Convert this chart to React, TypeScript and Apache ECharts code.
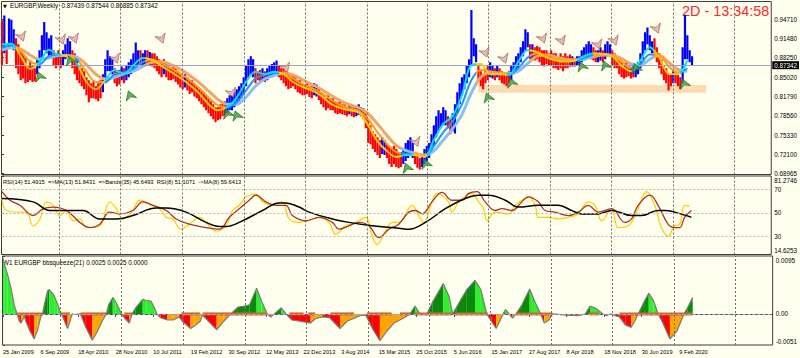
import React, { useEffect, useRef } from "react";
import * as echarts from "echarts";

// ---------------- DATA ----------------
const dateLabels = ["25 Jan 2009","6 Sep 2009","18 Apr 2010","28 Nov 2010","10 Jul 2011","19 Feb 2012","30 Sep 2012","12 May 2013","22 Dec 2013","3 Aug 2014","15 Mar 2015","25 Oct 2015","5 Jun 2016","15 Jan 2017","27 Aug 2017","8 Apr 2018","18 Nov 2018","30 Jun 2019","9 Feb 2020"];
const dateWeeks = [0,32,64,96,128,160,192,224,256,288,320,352,384,416,448,480,512,544,576];
const gridWeeks = [48.4,101.1,153.8,206.5,258.3,311,362.8,414.6,467.3,519.1,571.8,623.6];

const priceTicks = [0.9471,0.9148,0.8825,0.8502,0.8179,0.7856,0.7533,0.721,0.68965];
const priceTickLabels = ["0.94710","0.91480","0.88250","0.85020","0.81790","0.78560","0.75330","0.72100","0.68965"];
const rsiTicks = [81.2746,70,50,30,14.6253];
const rsiTickLabels = ["81.2746","70","50","30","14.6253"];
const sqTicks = [0.0095,0,-0.0051];
const sqTickLabels = ["0.0095","0.00","-0.0051"];

const titleText = "EURGBP,Weekly  0.87439 0.87544 0.86885 0.87342";
const rsiText = "RSI(14) 51.4915  =>MA(13) 51.8431  =>Bands(35) 45.6493  RSI(8) 51.1071  ->MA(8) 59.6413";
const sqText = "W1 EURGBP bbsqueeze(21) 0.0025 0.0025 0.0000";
const timerText = "2D - 13:34:58";
const lastPrice = 0.87342;
const lastPriceLabel = "0.87342";

// two-week bars (x = 2 * index weeks), prices x 10000
const barHigh = [
9450,9530,9000,9480,9460,9300,9150,9050,8950,8900,
8850,8700,8780,8700,8650,8800,8950,9200,9420,9250,
9150,9200,8950,8900,8950,8850,8950,9050,9150,9100,
8950,8900,8800,8700,8650,8600,8500,8450,8400,8450,
8350,8400,8450,8550,8800,8950,8850,8800,8650,8600,
8620,8680,8650,8700,8750,8800,8900,9080,8950,8950,
8900,8950,8950,8920,8900,8900,8850,8800,8750,8800,
8750,8700,8650,8700,8650,8600,8550,8500,8550,8500,
8450,8450,8400,8350,8300,8280,8250,8200,8150,8100,
8050,8000,8000,8050,8100,8100,8150,8200,8200,8250,
8300,8350,8400,8500,8700,8800,8850,8800,8650,8600,
8620,8650,8600,8650,8700,8720,8750,8780,8700,8650,
8650,8600,8550,8500,8550,8500,8450,8450,8400,8380,
8400,8350,8350,8400,8380,8300,8250,8200,8150,8200,
8150,8150,8100,8080,8100,8050,8050,8000,8050,8000,
8000,8000,8050,8000,7980,7900,7800,7700,7600,7550,
7500,7450,7500,7450,7400,7350,7300,7350,7300,7250,
7250,7300,7400,7450,7500,7400,7250,7200,7150,7200,
7300,7350,7400,7550,7700,7850,7950,7900,8000,7950,
7850,7800,7900,8050,8250,8400,8500,8550,8700,8800,
9620,9150,9050,8700,8600,8550,8650,8700,8750,8700,
8650,8700,8650,8600,8550,8550,8600,8700,8750,8850,
8900,9000,9100,9300,9250,9050,9050,9000,9020,9000,
8950,8950,8950,8900,8950,8900,8900,8850,8900,8850,
8900,8850,8880,8850,8820,8850,8850,8950,9000,9050,
9100,9050,9000,8950,8950,9000,8950,9050,9100,9050,
8950,8900,8850,8800,8750,8700,8750,8700,8650,8700,
8650,8750,8900,9100,9250,9330,9200,9100,9150,9000,
8900,8800,8700,8650,8550,8550,8600,8580,8550,8500,
9000,9540,9200,8950,8850
];
const barLow = [
8700,8900,8720,9000,9050,8950,8650,8550,8450,8480,
8400,8420,8450,8420,8430,8550,8650,8800,8950,8900,
8850,8850,8700,8650,8700,8650,8700,8800,8850,8800,
8650,8550,8450,8400,8350,8300,8200,8080,8150,8150,
8130,8100,8150,8250,8400,8600,8600,8550,8400,8350,
8380,8450,8400,8450,8500,8550,8600,8700,8700,8700,
8700,8720,8700,8700,8680,8650,8600,8550,8500,8550,
8500,8450,8450,8470,8420,8380,8330,8300,8330,8280,
8220,8250,8180,8150,8100,8050,8000,7950,7900,7850,
7800,7750,7780,7800,7850,7870,7900,7950,7950,8000,
8050,8100,8150,8200,8350,8500,8550,8500,8400,8450,
8420,8450,8420,8450,8500,8500,8550,8550,8500,8450,
8400,8350,8300,8320,8350,8300,8250,8230,8200,8200,
8220,8170,8150,8200,8180,8120,8050,8000,7950,7980,
7950,7950,7900,7880,7900,7880,7870,7850,7880,7850,
7830,7850,7870,7850,7800,7650,7400,7380,7300,7250,
7200,7150,7220,7200,7150,7050,7000,7050,7000,6980,
7000,7050,7100,7150,7200,7150,7050,6990,6960,7000,
7050,7100,7150,7250,7350,7500,7600,7650,7700,7700,
7650,7550,7600,7560,7900,8050,8200,8300,8400,8500,
8700,8850,8750,8450,8350,8300,8400,8450,8500,8480,
8450,8500,8450,8400,8380,8350,8400,8450,8550,8600,
8650,8750,8850,8950,9000,8800,8800,8780,8800,8750,
8700,8680,8720,8700,8700,8650,8650,8620,8650,8600,
8650,8650,8680,8680,8680,8700,8700,8750,8780,8800,
8850,8800,8780,8750,8750,8780,8750,8800,8850,8850,
8700,8650,8650,8550,8500,8480,8500,8520,8480,8500,
8500,8550,8650,8800,8950,9050,8950,8900,8900,8750,
8650,8550,8450,8400,8280,8350,8400,8400,8350,8300,
8400,8800,8800,8750,8700
];
const barDir = [
"rbrbbbrrrr","rrrrrbbbbb","bbrrrrbbbb","rrrrrrrrrr","rrrbbbbbrr",
"rbrbbbbbbr","bbrbrrrrrb","rrrrrrrrbr","rrrrrrrrrr","rrrrrrbbbb",
"bbbbbbbbrr","rbrbbbbbrr","rrrrrrrrrr","rrrbbrrrrr","rrrrrrrrbr",
"rbbbrrrrrr","rrbbrrrrrr","rbbbbbrrrb","bbbbbbbbbb","rrbbbbbbbb",
"bbbrrrrrbb","rbrrrrrbbb","bbbbbrbrrr","rrrrrrrrrr","rrrbrbbbbb",
"bbrrbbrbbb","rrrrrrrrrr","bbbbbbbbrr","rrrrrrbrrr","bbbbb"
].join("");

// moving averages, one value every 8 weeks, x 10000
const maFast = [9050,9060,8850,8640,8750,8960,8870,8850,8720,8420,8300,8450,8620,8560,8700,8820,8790,8690,8590,8490,8370,8230,8050,7950,8000,8160,8420,8590,8550,8590,8550,8420,8340,8280,8190,8060,7990,7950,7910,7700,7430,7270,7170,7200,7200,7170,7450,7720,7850,8200,8700,8720,8550,8550,8540,8760,8950,8920,8830,8780,8760,8780,8850,8900,8890,8850,8690,8600,8780,9000,8830,8560,8550,8780];
const maMid = [9000,9030,8930,8760,8720,8850,8880,8850,8790,8590,8420,8420,8550,8580,8640,8750,8790,8740,8650,8560,8450,8320,8160,8030,8000,8080,8280,8480,8540,8570,8570,8480,8390,8320,8240,8130,8040,7980,7940,7800,7580,7390,7250,7220,7200,7180,7350,7580,7760,8050,8450,8620,8600,8560,8550,8650,8830,8900,8860,8810,8780,8780,8820,8870,8880,8860,8760,8660,8720,8880,8870,8680,8580,8650];
const maSlow = [8950,8990,8970,8870,8800,8820,8860,8860,8830,8710,8550,8470,8500,8560,8600,8680,8750,8760,8710,8630,8530,8410,8270,8130,8050,8050,8170,8350,8470,8530,8570,8540,8460,8380,8300,8200,8110,8040,7990,7890,7720,7530,7360,7280,7230,7200,7270,7450,7640,7880,8240,8500,8580,8570,8560,8600,8730,8850,8870,8840,8800,8790,8800,8840,8870,8870,8810,8720,8700,8800,8860,8750,8630,8600];
const trendSegments: [number, string][] = [[0,"u"],[12,"d"],[30,"u"],[50,"d"],[62,"u"],[66,"d"],[88,"u"],[122,"d"],[190,"u"],[236,"d"],[340,"u"],[350,"d"],[362,"u"],[404,"d"],[430,"u"],[450,"d"],[490,"u"],[504,"d"],[536,"u"],[556,"d"],[578,"u"]];

// signal arrows [week, price]
const sellArrows = [[17,0.9172],[51,0.9121],[62,0.9138],[97,0.8803],[136,0.9138],[196,0.8234],[242,0.8653],[353,0.7414],[412,0.8904],[428,0.8803],[461,0.9138],[477,0.9105],[508,0.9038],[522,0.9105],[558,0.9305]];
const buyArrows = [[32,0.8519],[58,0.8786],[109,0.8201],[192,0.7899],[200,0.7866],[345,0.6995],[361,0.7062],[414,0.8167],[434,0.8418],[494,0.8686],[514,0.8703],[540,0.8653],[581,0.8401]];

// support zone
const zoneFrom = 406, zoneTo = 600, zoneLow = 0.8239, zoneHigh = 0.8368;

// RSI panel [week, value]
const rsiSlow = [[0,62.2],[26.6,59.3],[40.8,52.0],[55,52.0],[69,52.0],[83.3,44.8],[97.4,44.8],[111.6,47.7],[131.4,54.1],[140,54.1],[156.9,50.6],[173.9,41.9],[185.2,38.4],[190.9,38.4],[202.2,41.9],[222,52.0],[236.2,58.4],[241.9,58.4],[253.2,54.9],[261.7,50.6],[281.5,44.8],[295.7,41.9],[315.5,39.0],[338.1,37.0],[346.6,36.1],[360.8,41.9],[377.8,53.5],[394.8,62.2],[406.1,65.0],[414.6,65.0],[428.8,60.7],[440.1,54.9],[457.1,56.4],[474.1,56.4],[485.4,52.0],[493.9,49.1],[508.1,49.1],[519.5,52.0],[536.5,47.7],[545,47.7],[559.1,52.0],[564.7,52.0],[573.2,50.6],[587.4,46.2]];
const rsiFast = [[0,62.2],[4,52.0],[15.3,50.6],[21,50.6],[26.6,39.0],[32.3,44.8],[38,59.3],[43.6,56.4],[49.3,47.7],[55,52.0],[60.6,43.3],[66.3,44.8],[72,37.5],[83.3,39.0],[91.8,59.3],[97.4,53.5],[103,44.8],[111.6,52.0],[117.2,60.7],[125.7,57.8],[134.2,53.5],[140,46.2],[145.5,44.8],[152.7,36.1],[159.7,40.4],[168.2,46.2],[173.9,41.9],[182.4,34.6],[190.9,39.0],[196.5,52.0],[202.2,56.4],[207.9,63.6],[216.4,65.7],[222,59.3],[230.5,56.4],[239,59.3],[244.7,44.8],[253.2,41.9],[261.7,43.3],[270.2,46.2],[278.7,41.9],[284.4,31.7],[292.9,39.0],[298.5,40.4],[304.2,43.3],[309.8,46.2],[315.5,30.3],[319.7,23.0],[326.8,34.6],[332.5,41.9],[338.1,41.9],[349.5,56.4],[355.1,47.7],[359.4,41.9],[366.4,59.3],[370.7,66.5],[375,65.0],[380.6,59.3],[383.4,50.6],[389.1,59.3],[394.8,63.6],[400.4,66.5],[406.1,59.3],[410.4,53.5],[413.2,43.3],[420.3,50.6],[431.6,49.1],[437.3,56.4],[442.9,60.7],[448.6,63.6],[454.3,56.4],[457.1,46.2],[465.6,46.2],[474.1,44.8],[482.6,46.2],[491.1,49.1],[499.6,59.3],[505.2,56.4],[511,43.3],[519.5,53.5],[525.1,37.5],[533.6,39.0],[542.1,53.5],[549.2,68.0],[556.2,56.4],[561.9,37.5],[567.5,30.3],[573.2,39.0],[577.5,40.4],[581.7,56.4],[586,55.8]];
const rsiMid = [[0,68.0],[6.8,60.7],[15.3,56.4],[26.6,47.7],[35.1,53.5],[43.6,54.9],[55,52.0],[66.3,41.9],[74.8,37.5],[83.3,40.4],[91.8,50.6],[100.3,49.1],[111.6,52.0],[120,59.3],[128.5,56.4],[140,52.0],[148.4,44.8],[159.7,40.4],[173.9,37.5],[185.2,36.1],[193.7,46.2],[202.2,53.5],[210.7,60.7],[216.4,65.0],[224.9,59.3],[233.4,56.4],[241.9,56.4],[247.5,47.7],[258.9,43.3],[270.2,46.2],[281.5,41.9],[287.2,36.1],[295.7,39.0],[304.2,41.9],[312.7,39.0],[321.2,28.9],[329.7,36.1],[338.1,40.4],[346.6,50.6],[352.3,52.0],[358,49.1],[366.4,59.3],[375,67.4],[383.4,60.7],[392,60.7],[397.6,66.5],[404.7,68.0],[411.8,59.3],[420.3,52.0],[426,53.5],[434.5,52.0],[442.9,59.3],[448.6,63.6],[457.1,59.3],[462.8,52.0],[471.3,50.6],[482.6,47.7],[491.1,50.6],[499.6,56.4],[508.1,50.6],[519.5,53.5],[530.8,41.9],[536.5,44.8],[542.1,56.4],[552.1,65.0],[559.1,56.4],[567.5,40.4],[573.2,37.5],[577.5,37.5],[581.7,46.2],[587.4,52.0]];

// squeeze histogram [week, value x 10000]
const squeeze = [[0,92],[1,83],[4,64],[7,41],[9.6,14],[12,0],[13.9,-12],[15.3,-15],[16.7,-10],[18.1,-4],[19.5,-12],[22.4,-26],[26.6,-41],[29.5,-26],[32.3,-4],[33.7,0],[35,13],[38,38],[39.5,40],[43.6,30],[46.5,16],[49,2],[50,0],[52,-10],[55,-24],[57,-12],[59,0],[61,-1],[66,0],[70,-20],[76,-43],[80,-30],[85,-10],[88,0],[90,15],[93.5,27],[96,20],[101,0],[104,-8],[107.6,-15],[110,0],[113,10],[119,24],[122,22],[126,21],[129,10],[131,0],[134,-6],[140,-10],[145,-10],[150,-5],[152.7,-12],[159.7,-24],[163,-20],[168,-12],[170,-2],[172,-6],[182,-26],[188,-12],[194,0],[200,11],[206,13],[210,15],[216,42],[220,22],[225,0],[228,-5],[231,0],[237,10],[241,0],[246,-10],[253,-12],[262,-15],[266,-8],[272,-5],[278,-6],[287,-24],[293,-12],[299,-7],[304,-3],[309,-2],[315,-25],[321,-44],[327,-28],[333,-15],[338,-10],[342,-6],[346.6,0],[351,13],[355,0],[361,0],[366,20],[375,50],[380,28],[383,0],[386,10],[395,40],[402,55],[407,40],[412,0],[416,-12],[420,-24],[426,0],[428,7],[431,0],[434,-7],[437,0],[442,15],[448.6,41],[453,20],[458,0],[461,-15],[465,-10],[468,0],[480,-2],[490,-3],[496,0],[500,13],[505,9],[511,0],[514,-3],[517,0],[525,-5],[530,-18],[535,-22],[538,-12],[541,0],[546,20],[550,34],[554,22],[558,0],[562,-15],[568,-41],[574,-28],[580,0],[583,10],[587.4,27]];
const squeezeOn = [[12,34],[49,57],[66,88],[103,110],[152,168],[170,194],[194,225],[244,256],[260,266],[279,299],[310,331],[338,347],[350,382],[385,413],[437,468],[499,508],[525,587]];

// ---------------- STYLE ----------------
const BG = "#FFFFF0";
const FONT = "'Liberation Sans',Arial,sans-serif";
const XMIN = -0.4, XMAX = 655.5;
const UP = { fast: "#00E4F0", mid: "#1E96FF", slow: "#86BFF0" };
const DN = { fast: "#FFCC00", mid: "#FF9C1A", slow: "#F2A566" };

function pieces(up: string, dn: string) {
  return trendSegments.map((s, j) => ({
    gte: s[0],
    lt: j + 1 < trendSegments.length ? trendSegments[j + 1][0] : 100000,
    color: s[1] === "u" ? up : dn,
  }));
}

function labelFmt(ticks: number[], labels: string[], edge: boolean) {
  return (v: number) => {
    const i = ticks.findIndex((t) => Math.abs(t - v) < 1e-7);
    if (i < 0) return "";
    if (edge && i === 0) return "{t|" + labels[i] + "}";
    if (edge && i === labels.length - 1) return "{b|" + labels[i] + "}";
    return labels[i];
  };
}

export default function App() {
  const ref = useRef<HTMLDivElement>(null);
  useEffect(() => {
    if (!ref.current) return;
    const chart = echarts.init(ref.current, undefined, { renderer: "svg" });

    const vlines = gridWeeks.map((w) => ({ xAxis: w }));
    const dashed = { type: [2, 2] as any, color: "#6E6E6E", width: 1 };
    const LS = 6.3;
    const axisLbl = { fontSize: LS, fontFamily: FONT, color: "#000", margin: 3,
      rich: { t: { padding: [8, 0, 0, 0], fontSize: LS, fontFamily: FONT }, b: { padding: [0, 0, 8, 0], fontSize: LS, fontFamily: FONT } } };

    const grids = [
      { left: 1.5, right: 26.5, top: 1.5, height: 173 },
      { left: 1.5, right: 26.5, top: 176, height: 78.5 },
      { left: 1.5, right: 26.5, top: 256, height: 89 },
    ].map((g) => ({ ...g, show: true, backgroundColor: "transparent", borderColor: "#3C3C3C", borderWidth: 1 }));

    const xBase = (gi: number) => ({
      type: "value", gridIndex: gi, min: XMIN, max: XMAX,
      splitLine: { show: false }, axisLine: { show: false }, axisTick: { show: false }, axisLabel: { show: false },
    });

    const option: any = {
      animation: false,
      backgroundColor: BG,
      grid: grids,
      xAxis: [
        xBase(0), xBase(1),
        {
          ...xBase(2),
          axisLine: { show: true, lineStyle: { color: "#3C3C3C" } },
          axisTick: { show: true, customValues: dateWeeks, length: 3, lineStyle: { color: "#3C3C3C" } },
          axisLabel: {
            show: true, customValues: dateWeeks, align: "left", fontSize: 5.6, fontFamily: FONT, color: "#000", margin: 4,
            formatter: (v: number) => { const i = dateWeeks.findIndex((d) => Math.abs(d - v) < 1e-6); return i >= 0 ? dateLabels[i] : ""; },
          },
        },
      ],
      yAxis: [
        { type: "value", gridIndex: 0, position: "right", min: 0.68765, max: 0.9763, splitLine: { show: false }, axisLine: { show: false },
          axisTick: { show: true, customValues: priceTicks, length: 2, lineStyle: { color: "#333" } },
          axisLabel: { ...axisLbl, customValues: priceTicks, formatter: labelFmt(priceTicks, priceTickLabels, false) } },
        { type: "value", gridIndex: 1, position: "right", min: 14.6253, max: 81.2746, splitLine: { show: false }, axisLine: { show: false },
          axisTick: { show: true, customValues: rsiTicks, length: 2, lineStyle: { color: "#333" } },
          axisLabel: { ...axisLbl, customValues: rsiTicks, formatter: labelFmt(rsiTicks, rsiTickLabels, true) } },
        { type: "value", gridIndex: 2, position: "right", min: -0.0051, max: 0.0095, splitLine: { show: false }, axisLine: { show: false },
          axisTick: { show: true, customValues: sqTicks, length: 2, lineStyle: { color: "#333" } },
          axisLabel: { ...axisLbl, customValues: sqTicks, formatter: labelFmt(sqTicks, sqTickLabels, true) } },
      ],
      visualMap: [
        { type: "piecewise", show: false, dimension: 0, seriesIndex: 2, pieces: pieces(UP.slow, DN.slow), outOfRange: { color: DN.slow } },
        { type: "piecewise", show: false, dimension: 0, seriesIndex: 3, pieces: pieces(UP.mid, DN.mid), outOfRange: { color: DN.mid } },
        { type: "piecewise", show: false, dimension: 0, seriesIndex: 4, pieces: pieces(UP.fast, DN.fast), outOfRange: { color: DN.fast } },
      ],
      series: [
        // 0 levels: grid lines, zone, last price
        {
          type: "line", xAxisIndex: 0, yAxisIndex: 0, z: 1, silent: true, showSymbol: false,
          data: [[XMIN, lastPrice], [XMAX, lastPrice]], lineStyle: { opacity: 0 },
          markArea: { silent: true, itemStyle: { color: "#FCDAB2" }, data: [[{ xAxis: zoneFrom, yAxis: zoneLow }, { xAxis: zoneTo, yAxis: zoneHigh }]] },
          markLine: {
            silent: true, symbol: ["none", "none"], label: { show: false }, lineStyle: dashed,
            data: [
              ...vlines,
              { yAxis: lastPrice, lineStyle: { type: "solid", color: "#9AA3BE", width: 1 },
                label: { show: true, position: "end", formatter: lastPriceLabel, color: "#FFF", backgroundColor: "#000", padding: [1, 2, 1, 2], fontSize: LS, fontFamily: FONT, distance: 1 } },
            ],
          },
        },
        // 1 price bars
        {
          type: "custom", xAxisIndex: 0, yAxisIndex: 0, z: 2, silent: true, clip: true,
          data: barHigh.map((h, i) => [i * 2, h / 10000, barLow[i] / 10000, barDir[i] === "b" ? 1 : 0]),
          encode: { x: 0, y: [1, 2] },
          renderItem: (params: any, api: any) => {
            const t = api.coord([api.value(0), api.value(1)]);
            const b = api.coord([api.value(0), api.value(2)]);
            return { type: "rect", shape: { x: t[0] - 1.1, y: t[1], width: 2.2, height: Math.max(1, b[1] - t[1]) },
              style: { fill: api.value(3) ? "#0000FF" : "#FF0000" } };
          },
        },
        // 2-4 moving averages
        { type: "line", xAxisIndex: 0, yAxisIndex: 0, z: 3, smooth: 0.35, showSymbol: false, silent: true,
          data: maSlow.map((v, k) => [k * 8, v / 10000]), lineStyle: { width: 3 } },
        { type: "line", xAxisIndex: 0, yAxisIndex: 0, z: 4, smooth: 0.35, showSymbol: false, silent: true,
          data: maMid.map((v, k) => [k * 8, v / 10000]), lineStyle: { width: 2 } },
        { type: "line", xAxisIndex: 0, yAxisIndex: 0, z: 5, smooth: 0.35, showSymbol: false, silent: true,
          data: maFast.map((v, k) => [k * 8, v / 10000]), lineStyle: { width: 2 } },
        // 5-6 arrows
        { type: "scatter", xAxisIndex: 0, yAxisIndex: 0, z: 6, silent: true, data: sellArrows,
          symbol: "path://M0,0 L6,3 L12,0 L6,10 Z", symbolSize: [11, 9], symbolRotate: 20,
          itemStyle: { color: "#DDAAA5", borderColor: "#A8605A", borderWidth: 0.8 } },
        { type: "scatter", xAxisIndex: 0, yAxisIndex: 0, z: 6, silent: true, data: buyArrows,
          symbol: "path://M6,0 L12,10 L6,7 L0,10 Z", symbolSize: [11, 9], symbolRotate: 20,
          itemStyle: { color: "#3C9C3C", borderColor: "#1B6B1B", borderWidth: 0.8 } },
        // 7-9 RSI panel
        { type: "line", xAxisIndex: 1, yAxisIndex: 1, z: 4, smooth: 0.4, showSymbol: false, silent: true,
          data: rsiSlow, lineStyle: { color: "#000", width: 1.5 },
          markLine: { silent: true, symbol: ["none", "none"], label: { show: false }, lineStyle: dashed,
            data: [...vlines,
              { yAxis: 70, lineStyle: { type: [2, 2], color: "#B8B8B8", width: 1 } },
              { yAxis: 50, lineStyle: { type: [2, 2], color: "#B8B8B8", width: 1 } },
              { yAxis: 30, lineStyle: { type: [2, 2], color: "#B8B8B8", width: 1 } }] } },
        { type: "line", xAxisIndex: 1, yAxisIndex: 1, z: 3, smooth: 0.4, showSymbol: false, silent: true,
          data: rsiMid, lineStyle: { color: "#A8322A", width: 1.3 } },
        { type: "line", xAxisIndex: 1, yAxisIndex: 1, z: 2, smooth: 0.4, showSymbol: false, silent: true,
          data: rsiFast, lineStyle: { color: "#FFD000", width: 1.3 } },
        // 10 squeeze histogram
        {
          type: "custom", xAxisIndex: 2, yAxisIndex: 2, z: 2, silent: true, clip: true,
          data: squeeze.slice(1).map((p, j) => [squeeze[j][0], squeeze[j][1] / 10000, p[0], p[1] / 10000]),
          encode: { x: [0, 2], y: [1, 3] },
          renderItem: (params: any, api: any) => {
            const x0 = api.value(0), v0 = api.value(1), x1 = api.value(2), v1 = api.value(3);
            const pts = [api.coord([x0, 0]), api.coord([x0, v0]), api.coord([x1, v1]), api.coord([x1, 0])];
            let fill;
            if (v0 >= 0 && v1 >= 0) fill = v1 > v0 ? "#0A8A0A" : "#2EEE2E";
            else fill = v1 < v0 ? "#FF0000" : "#FFA500";
            return { type: "polygon", shape: { points: pts }, style: { fill } };
          },
        },
        // 11 squeeze outline + panel lines
        { type: "line", xAxisIndex: 2, yAxisIndex: 2, z: 3, showSymbol: false, silent: true,
          data: squeeze.map((p) => [p[0], p[1] / 10000]), lineStyle: { color: "#7A7A7A", width: 1.2 },
          markLine: { silent: true, symbol: ["none", "none"], label: { show: false }, lineStyle: dashed,
            data: [...vlines, { yAxis: 0, lineStyle: { type: [3, 2], color: "#9FA8D8", width: 1 } }] } },
        // 12 squeeze-on markers
        {
          type: "custom", xAxisIndex: 2, yAxisIndex: 2, z: 4, silent: true,
          data: squeezeOn.map((s) => [s[0], s[1], 0]),
          encode: { x: [0, 1], y: 2 },
          renderItem: (params: any, api: any) => {
            const a = api.coord([api.value(0), 0]);
            const b = api.coord([api.value(1), 0]);
            return { type: "rect", shape: { x: a[0], y: a[1] - 1.5, width: b[0] - a[0], height: 3 }, style: { fill: "#CC6A2C" } };
          },
        },
      ],
      graphic: [
        { type: "text", x: 3, y: 3.5, style: { text: "▼", fontSize: 5, fill: "#000", fontFamily: "DejaVu Sans" } },
        { type: "text", x: 10, y: 2.5, style: { text: titleText, fontSize: 6.3, fill: "#000", fontFamily: FONT } },
        { type: "text", x: 3, y: 179, style: { text: rsiText, fontSize: 5.7, fill: "#000", fontFamily: FONT } },
        { type: "text", x: 3, y: 259, style: { text: sqText, fontSize: 6.3, fill: "#000", fontFamily: FONT } },
        { type: "text", x: 682, y: 3.5, style: { text: timerText, fontSize: 14.4, fill: "#FF2626", fontFamily: FONT } },
      ],
    };
    chart.setOption(option);
    return () => chart.dispose();
  }, []);

  return (
    <div style={{ position: "fixed", left: 0, top: 0, width: 800, height: 358, background: BG }}>
      <div ref={ref} style={{ width: 800, height: 358 }} />
    </div>
  );
}
